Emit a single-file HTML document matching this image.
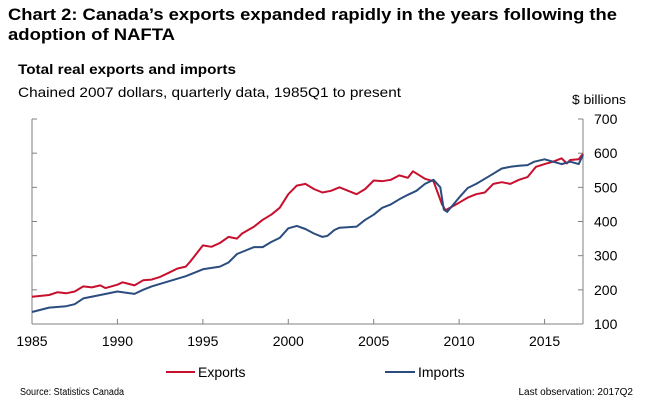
<!DOCTYPE html>
<html><head><meta charset="utf-8"><style>
html,body{margin:0;padding:0;background:#fff;}
svg{display:block;font-family:"Liberation Sans",Arial,sans-serif;}
</style></head><body>
<svg id="chart" width="650" height="404" viewBox="0 0 650 404">
<text x="8" y="20" font-size="17" font-weight="bold" textLength="609" lengthAdjust="spacingAndGlyphs" fill="#000">Chart 2: Canada’s exports expanded rapidly in the years following the</text>
<text x="8" y="40" font-size="17" font-weight="bold" textLength="167" lengthAdjust="spacingAndGlyphs" fill="#000">adoption of NAFTA</text>
<text x="18" y="74" font-size="14" font-weight="bold" textLength="218" lengthAdjust="spacingAndGlyphs">Total real exports and imports</text>
<text x="18" y="97" font-size="14" textLength="383" lengthAdjust="spacingAndGlyphs">Chained 2007 dollars, quarterly data, 1985Q1 to present</text>
<text x="572" y="104" font-size="13" textLength="54" lengthAdjust="spacingAndGlyphs">$ billions</text>
<g id="axes"></g>
<g id="series"></g>
<g>
<line x1="166" y1="372" x2="195" y2="372" stroke="#c8102e" stroke-width="2"/>
<text x="198" y="377" font-size="14">Exports</text>
<line x1="385" y1="372" x2="415" y2="372" stroke="#2b4c7e" stroke-width="2"/>
<text x="418" y="377" font-size="14">Imports</text>
</g>
<text x="20" y="395" font-size="10" textLength="104" lengthAdjust="spacingAndGlyphs">Source:  Statistics Canada</text>
<text x="633" y="395" font-size="10" text-anchor="end">Last observation:  2017Q2</text>
</svg>
<script>
const yTicks = [100,200,300,400,500,600,700];
const xTicks = [1985,1990,1995,2000,2005,2010,2015];
const exportYears = [1985,1986,1986.5,1987,1987.5,1988,1988.5,1989,1989.3,1990,1990.3,1991,1991.5,1992,1992.5,1993,1993.5,1994,1994.3,1995,1995.5,1996,1996.5,1997,1997.3,1998,1998.5,1999,1999.5,2000,2000.5,2001,2001.5,2002,2002.5,2003,2003.5,2004,2004.5,2005,2005.5,2006,2006.5,2007,2007.3,2008,2008.5,2009,2009.2,2010,2010.5,2011,2011.5,2012,2012.5,2013,2013.5,2014,2014.5,2015,2015.5,2016,2016.3,2016.5,2017,2017.25];
const exportValues = [180,185,193,190,195,210,207,213,205,215,222,213,228,230,238,250,262,268,285,330,326,337,355,350,365,385,405,420,440,480,505,510,495,485,490,500,490,480,495,520,518,522,535,528,547,525,518,450,433,455,470,480,485,510,515,510,522,530,560,568,575,585,570,580,582,598];
const importYears = [1985,1986,1987,1987.5,1988,1989,1990,1991,1991.5,1992,1993,1994,1995,1996,1996.5,1997,1997.5,1998,1998.5,1999,1999.5,2000,2000.5,2001,2001.5,2002,2002.3,2002.7,2003,2004,2004.5,2005,2005.5,2006,2006.5,2007,2007.5,2008,2008.5,2008.9,2009.1,2009.3,2010,2010.5,2011,2011.5,2012,2012.5,2013,2013.5,2014,2014.4,2015,2015.5,2016,2016.5,2017,2017.25];
const importValues = [135,148,152,158,175,185,195,188,200,210,225,240,260,268,280,305,315,325,325,340,352,380,387,378,365,355,358,375,382,385,405,420,440,450,465,478,490,510,522,500,435,428,470,498,510,525,540,555,560,563,565,575,582,575,568,575,568,595];

const NS="http://www.w3.org/2000/svg";
const X0=32, X1=583, Y0=324, Y1=119;
function xs(y){return X0+(y-1985)*(X1-X0)/32.25;}
function ys(v){return Y0-(v-100)*(Y0-Y1)/600;}
function mk(tag,attrs,parent){const e=document.createElementNS(NS,tag);for(const k in attrs)e.setAttribute(k,attrs[k]);parent.appendChild(e);return e;}
const axes=document.getElementById('axes');
let a=mk('line',{x1:X0,y1:Y0,x2:X0,y2:Y1,stroke:'#808080','stroke-width':1},axes);


a=mk('line',{x1:X1,y1:Y0,x2:X1,y2:Y1,stroke:'#808080','stroke-width':1},axes);


a=mk('line',{x1:X0,y1:Y0,x2:X1,y2:Y0,stroke:'#808080','stroke-width':1},axes);


yTicks.forEach(t=>{
  const y=ys(t);
  let l=mk('line',{x1:X0,y1:y,x2:X0+5,y2:y,stroke:'#808080'},axes);
  
  
  l=mk('line',{x1:X1-5,y1:y,x2:X1,y2:y,stroke:'#808080'},axes);
  
  
  const tx=mk('text',{x:594,y:y+5,'font-size':14},axes);
  tx.textContent=t;
  
  
});
xTicks.forEach(t=>{
  const x=xs(t);
  const l=mk('line',{x1:x,y1:Y0,x2:x,y2:Y0-5,stroke:'#808080'},axes);
  
  
  const tx=mk('text',{x:x,y:346,'font-size':14,'text-anchor':'middle'},axes);
  tx.textContent=t;
  
  
});
const ser=document.getElementById('series');
function path(yrs,vals){return yrs.map((y,i)=>(i?'L':'M')+xs(y).toFixed(1)+','+ys(vals[i]).toFixed(1)).join('');}
let p=mk('path',{d:path(exportYears,exportValues),fill:'none',stroke:'#c8102e','stroke-width':2,'stroke-linejoin':'round'},ser);


p=mk('path',{d:path(importYears,importValues),fill:'none',stroke:'#2b4c7e','stroke-width':2,'stroke-linejoin':'round'},ser);


</script>
</body></html>
